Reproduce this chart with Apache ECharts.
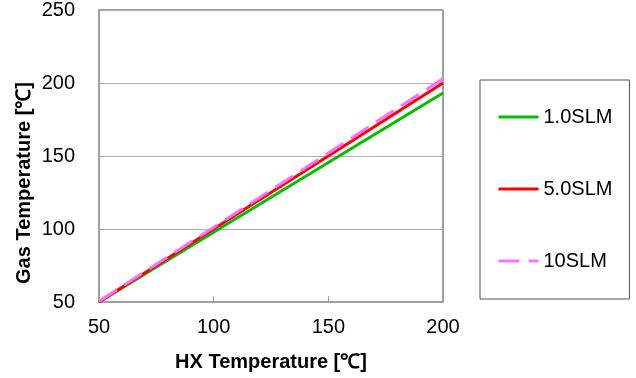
<!DOCTYPE html>
<html>
<head>
<meta charset="utf-8">
<script src="https://cdn.jsdelivr.net/npm/echarts@6/dist/echarts.min.js"></script>
<style>
html,body{margin:0;padding:0;background:#fff;}
#chart{width:636px;height:378px;}
</style>
</head>
<body>
<div id="chart"></div>
<script>
var hxTemps = [50, 100, 150, 200];
var gas1SLM = [50, 97.8, 145.5, 193.2];
var gas5SLM = [50, 100, 150, 200];
var gas10SLM = [50.5, 101.2, 152, 203];
var seriesNames = ['1.0SLM', '5.0SLM', '10SLM'];
var xTicks = [50, 100, 150, 200];
var yTicks = [50, 100, 150, 200, 250];

function pairs(xs, ys) { return xs.map(function (x, i) { return [x, ys[i]]; }); }

var font = 'Liberation Sans, Arial, sans-serif';
var chart = echarts.init(document.getElementById('chart'), null, {renderer: 'canvas'});
chart.setOption({
  animation: false,
  backgroundColor: '#fff',
  grid: {left: 99, right: 193, top: 10, bottom: 76, show: true, borderColor: '#404040', borderWidth: 1},
  xAxis: {
    type: 'value', min: xTicks[0], max: xTicks[xTicks.length - 1], interval: 50,
    name: 'HX Temperature [℃]', nameLocation: 'middle', nameGap: 50,
    nameTextStyle: {fontFamily: font, fontSize: 20, fontWeight: 'bold', color: '#000'},
    axisLine: {lineStyle: {color: '#a0a0a0', width: 2}},
    axisTick: {inside: true, length: 6, lineStyle: {color: '#a0a0a0'}},
    axisLabel: {fontFamily: font, fontSize: 20, color: '#000', margin: 15},
    splitLine: {show: false}
  },
  yAxis: {
    type: 'value', min: yTicks[0], max: yTicks[yTicks.length - 1], interval: 50,
    axisLine: {show: true, lineStyle: {color: '#a0a0a0', width: 2}},
    axisTick: {show: true, inside: true, length: 5, lineStyle: {color: '#a0a0a0'}},
    axisLabel: {fontFamily: font, fontSize: 20, color: '#000', margin: 24},
    splitLine: {show: true, lineStyle: {color: '#b0b0b0', width: 1}}
  },
  legend: {
    orient: 'vertical', left: 480, top: 80,
    padding: [27, 17, 28, 17],
    borderColor: '#505050', borderWidth: 1,
    itemWidth: 40, itemHeight: 20, itemGap: 52,
    itemStyle: {opacity: 0},
    lineStyle: {width: 3},
    textStyle: {fontFamily: font, fontSize: 20, color: '#000', lineHeight: 20, padding: [0, 0, 0, 0]},
    data: seriesNames
  },
  graphic: [{
    type: 'text', x: 24, y: 183, rotation: Math.PI / 2,
    style: {text: 'Gas Temperature [℃]', fontFamily: font, fontSize: 20, fontWeight: 'bold', fill: '#000', align: 'center', verticalAlign: 'middle'}
  }],
  series: [
    {name: seriesNames[0], type: 'line', showSymbol: false, symbol: 'none', data: pairs(hxTemps, gas1SLM),
      lineStyle: {color: '#00c000', width: 3}, itemStyle: {color: '#00c000'}},
    {name: seriesNames[1], type: 'line', showSymbol: false, symbol: 'none', data: pairs(hxTemps, gas5SLM),
      lineStyle: {color: '#ff0000', width: 3}, itemStyle: {color: '#ff0000'}},
    {name: seriesNames[2], type: 'line', showSymbol: false, symbol: 'none', data: pairs(hxTemps, gas10SLM),
      lineStyle: {color: '#ff70ff', width: 3, type: [21, 9]}, itemStyle: {color: '#ff70ff'}}
  ]
});
</script>
</body>
</html>
